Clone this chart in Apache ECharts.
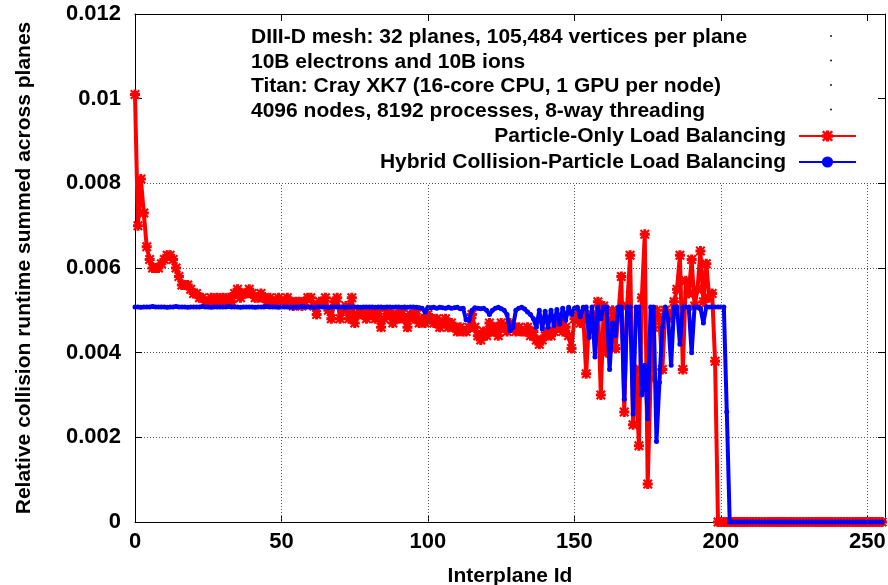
<!DOCTYPE html>
<html>
<head>
<meta charset="utf-8">
<title>Relative collision runtime per interplane</title>
<script src="https://cdn.jsdelivr.net/npm/echarts@6/dist/echarts.min.js"></script>
<style>
  html, body { margin: 0; padding: 0; background: #fff; }
  #chart { width: 888px; height: 585px; }
</style>
</head>
<body>
<div id="chart"></div>
<script>
// Run description printed at the top of the key
const noteLines = [
  'DIII-D mesh: 32 planes, 105,484 vertices per plane',
  '10B electrons and 10B ions',
  'Titan: Cray XK7 (16-core CPU, 1 GPU per node)',
  '4096 nodes, 8192 processes, 8-way threading'
];

const seriesNames = [
  'Particle-Only Load Balancing',
  'Hybrid Collision-Particle Load Balancing'
];

// Relative collision runtime (summed across planes), one value per interplane id 0..255
const particleOnly = [
  0.0101, 0.0070, 0.0081, 0.0073, 0.0065, 0.0062, 0.0060, 0.0060, 0.0060, 0.0061, // 0
  0.0062, 0.0063, 0.0063, 0.0062, 0.0060, 0.0058, 0.0056, 0.0056, 0.0056, 0.0055, // 10
  0.0054, 0.0054, 0.0053, 0.0053, 0.0052, 0.0052, 0.0053, 0.0052, 0.0053, 0.0052, // 20
  0.0053, 0.0052, 0.0053, 0.0052, 0.0054, 0.0055, 0.0053, 0.0054, 0.0054, 0.0055, // 30
  0.0054, 0.0053, 0.0053, 0.0054, 0.0053, 0.0052, 0.0053, 0.0052, 0.0052, 0.0053, // 40
  0.0052, 0.0052, 0.0053, 0.0052, 0.0051, 0.0052, 0.0052, 0.0051, 0.0052, 0.0053, // 50
  0.0053, 0.0051, 0.0049, 0.0052, 0.0052, 0.0053, 0.0050, 0.0048, 0.0052, 0.0053, // 60
  0.0048, 0.0050, 0.0051, 0.0048, 0.0053, 0.0047, 0.0049, 0.0050, 0.0049, 0.0048, // 70
  0.0050, 0.0049, 0.0048, 0.0050, 0.0046, 0.0048, 0.0050, 0.0049, 0.0047, 0.0049, // 80
  0.0048, 0.0050, 0.0048, 0.0046, 0.0049, 0.0048, 0.0050, 0.0047, 0.0048, 0.0047, // 90
  0.0049, 0.0048, 0.0047, 0.0048, 0.0046, 0.0047, 0.0048, 0.0046, 0.0047, 0.0046, // 100
  0.0045, 0.0046, 0.0045, 0.0045, 0.0046, 0.0049, 0.0046, 0.0044, 0.0043, 0.0045, // 110
  0.0044, 0.0047, 0.0045, 0.0046, 0.0044, 0.0047, 0.0046, 0.0045, 0.0047, 0.0046, // 120
  0.0045, 0.0046, 0.0045, 0.0045, 0.0046, 0.0044, 0.0045, 0.0043, 0.0042, 0.0043, // 130
  0.0044, 0.0045, 0.0044, 0.0045, 0.0046, 0.0047, 0.0045, 0.0046, 0.0044, 0.0041, // 140
  0.0048, 0.0049, 0.0047, 0.0049, 0.0035, 0.0048, 0.0049, 0.0047, 0.0052, 0.0030, // 150
  0.0051, 0.0040, 0.0047, 0.0050, 0.0041, 0.0049, 0.0058, 0.0026, 0.0051, 0.0063, // 160
  0.0023, 0.0036, 0.0018, 0.0053, 0.0068, 0.0009, 0.0034, 0.0046, 0.0050, 0.0048, // 170
  0.0036, 0.0050, 0.0048, 0.0049, 0.0052, 0.0055, 0.0063, 0.0036, 0.0057, 0.0054, // 180
  0.0062, 0.0051, 0.0055, 0.0064, 0.0052, 0.0061, 0.0053, 0.0054, 0.0038, 0,      // 190
  0, 0, 0, 0, 0, 0, 0, 0, 0, 0,                                                   // 200
  0, 0, 0, 0, 0, 0, 0, 0, 0, 0,                                                   // 210
  0, 0, 0, 0, 0, 0, 0, 0, 0, 0,                                                   // 220
  0, 0, 0, 0, 0, 0, 0, 0, 0, 0,                                                   // 230
  0, 0, 0, 0, 0, 0, 0, 0, 0, 0,                                                   // 240
  0, 0, 0, 0, 0, 0                                                                // 250
];

const hybrid = [
  0.00508, 0.00508, 0.00507, 0.00508, 0.00508, 0.00508, 0.00509, 0.00508, 0.00508, 0.00508, // 0
  0.00508, 0.00507, 0.00508, 0.00508, 0.00509, 0.00508, 0.00508, 0.00508, 0.00507, 0.00508, // 10
  0.00508, 0.00508, 0.00508, 0.00509, 0.00508, 0.00508, 0.00507, 0.00508, 0.00508, 0.00508, // 20
  0.00508, 0.00508, 0.00509, 0.00508, 0.00508, 0.00508, 0.00507, 0.00508, 0.00508, 0.00508, // 30
  0.00508, 0.00507, 0.00508, 0.00508, 0.00508, 0.00509, 0.00508, 0.00508, 0.00508, 0.00507, // 40
  0.00508, 0.00508, 0.00508, 0.00508, 0.00507, 0.00508, 0.00508, 0.00509, 0.00508, 0.00508, // 50
  0.00508, 0.00507, 0.00508, 0.00508, 0.00508, 0.00508, 0.00507, 0.00508, 0.00508, 0.00508, // 60
  0.00508, 0.00508, 0.00507, 0.00508, 0.00508, 0.00508, 0.00508, 0.00507, 0.00508, 0.00508, // 70
  0.00508, 0.00508, 0.00507, 0.00508, 0.00508, 0.00507, 0.00508, 0.00508, 0.00507, 0.00508, // 80
  0.00508, 0.00507, 0.00508, 0.00507, 0.00508, 0.00508, 0.00507, 0.00506, 0.00505, 0.00496, // 90
  0.00507, 0.00506, 0.00507, 0.00505, 0.00507, 0.00506, 0.00505, 0.00507, 0.00505, 0.00506, // 100
  0.00507, 0.00504, 0.00505, 0.00478, 0.00476, 0.00500, 0.00506, 0.00505, 0.00504, 0.00505, // 110
  0.00500, 0.00490, 0.00500, 0.00505, 0.00507, 0.00504, 0.00500, 0.00490, 0.00452, 0.00460, // 120
  0.00500, 0.00505, 0.00507, 0.00503, 0.00496, 0.00490, 0.00480, 0.00460, 0.00500, 0.00456, // 130
  0.00498, 0.00460, 0.00500, 0.00464, 0.00502, 0.00468, 0.00505, 0.00476, 0.00507, 0.00490, // 140
  0.00505, 0.00507, 0.00485, 0.00507, 0.00508, 0.00436, 0.00508, 0.00390, 0.00508, 0.00480, // 150
  0.00508, 0.00508, 0.00360, 0.00470, 0.00440, 0.00508, 0.00508, 0.00290, 0.00508, 0.00508, // 160
  0.00255, 0.00508, 0.00508, 0.00300, 0.00370, 0.00244, 0.00508, 0.00508, 0.00190, 0.00330, // 170
  0.00460, 0.00508, 0.00480, 0.00370, 0.00508, 0.00508, 0.00420, 0.00508, 0.00508, 0.00508, // 180
  0.00400, 0.00508, 0.00508, 0.00505, 0.00470, 0.00508, 0.00508, 0.00508, 0.00508, 0.00508, // 190
  0.00508, 0.00508, 0.00260, 0, 0, 0, 0, 0, 0, 0,                                           // 200
  0, 0, 0, 0, 0, 0, 0, 0, 0, 0,                                                             // 210
  0, 0, 0, 0, 0, 0, 0, 0, 0, 0,                                                             // 220
  0, 0, 0, 0, 0, 0, 0, 0, 0, 0,                                                             // 230
  0, 0, 0, 0, 0, 0, 0, 0, 0, 0,                                                             // 240
  0, 0, 0, 0, 0, 0                                                                          // 250
];

// Axis ticks
const xTicks = [0, 50, 100, 150, 200, 250];
const yTicks = [0, 0.002, 0.004, 0.006, 0.008, 0.01, 0.012];

const FONT = '"Liberation Sans", Arial, Helvetica, sans-serif';
const textBase = { fontFamily: FONT, fontSize: 21, fontWeight: 'bold', color: '#000' };
const tickText = Object.assign({}, textBase, { fontSize: 22 });

// The key box hides the grid above this value
const gridCeiling = 0.008;
const gridDot = { type: [1, 2], color: '#555', width: 1 };

// Thick asterisk marker (plus and cross)
const starPath = 'path://M3.5,0 L6.5,0 L6.5,3.5 L10,3.5 L10,6.5 L6.5,6.5 L6.5,10 L3.5,10 L3.5,6.5 L0,6.5 L0,3.5 L3.5,3.5 Z ' +
                 'M1.5,0 L5,3.5 L8.5,0 L10,1.5 L6.5,5 L10,8.5 L8.5,10 L5,6.5 L1.5,10 L0,8.5 L3.5,5 L0,1.5 Z';

const toPairs = arr => arr.map((v, i) => [i, v]);

const chart = echarts.init(document.getElementById('chart'), null, { renderer: 'canvas' });

const axisLineStyle = { show: true, onZero: false, lineStyle: { color: '#000', width: 1 } };
const tickStyle = { show: true, inside: true, length: 7, lineStyle: { color: '#000', width: 1 } };

// Empty key samples next to the description lines (tiny dots)
const noteDots = noteLines.map((_, i) => ({
  type: 'circle',
  shape: { cx: 831, cy: 36 + i * 24.5, r: 0.9 },
  style: { fill: '#000' },
  silent: true
}));

const option = {
  animation: false,
  backgroundColor: '#fff',
  title: {
    text: noteLines.join('\n'),
    left: 251,
    top: 25,
    padding: 0,
    textStyle: Object.assign({}, textBase, { lineHeight: 24.5 })
  },
  legend: {
    orient: 'vertical',
    right: 31,
    top: 125,
    align: 'right',
    itemWidth: 57,
    itemHeight: 14,
    itemGap: 4,
    padding: 0,
    data: seriesNames,
    textStyle: Object.assign({}, textBase, { lineHeight: 22, padding: [0, 8, 0, 0] })
  },
  graphic: noteDots,
  grid: { left: 135, right: 3, top: 14, bottom: 63, show: false, outerBoundsMode: 'none' },
  xAxis: [
    {
      type: 'value', min: 0, max: 256, interval: 50, position: 'bottom',
      axisLine: axisLineStyle,
      axisTick: tickStyle,
      axisLabel: Object.assign({}, tickText, { margin: 9, showMaxLabel: false }),
      splitLine: { show: false },
      name: 'Interplane Id',
      nameLocation: 'middle',
      nameGap: 44,
      nameTextStyle: textBase
    },
    {
      type: 'value', min: 0, max: 256, interval: 50, position: 'top',
      axisLine: axisLineStyle,
      axisTick: tickStyle,
      axisLabel: { show: false },
      splitLine: { show: false }
    }
  ],
  yAxis: [
    {
      type: 'value', min: 0, max: 0.012, interval: 0.002, position: 'left',
      axisLine: axisLineStyle,
      axisTick: tickStyle,
      axisLabel: Object.assign({}, tickText, {
        margin: 14,
        formatter: v => String(+v.toFixed(3))
      }),
      splitLine: {
        show: true,
        lineStyle: {
          type: gridDot.type, width: 1,
          color: yTicks.map(t => (t > 0 && t <= gridCeiling + 1e-9) ? gridDot.color : 'rgba(0,0,0,0)')
        }
      },
      name: 'Relative collision runtime summed across planes',
      nameLocation: 'middle',
      nameRotate: 90,
      nameGap: 100,
      nameTextStyle: textBase
    },
    {
      type: 'value', min: 0, max: 0.012, interval: 0.002, position: 'right',
      axisLine: axisLineStyle,
      axisTick: tickStyle,
      axisLabel: { show: false },
      splitLine: { show: false }
    }
  ],
  series: [
    {
      // vertical grid lines, stopping below the key
      name: 'grid',
      type: 'line',
      data: [],
      silent: true,
      z: 1,
      markLine: {
        silent: true,
        animation: false,
        symbol: ['none', 'none'],
        label: { show: false },
        lineStyle: gridDot,
        data: xTicks.filter(t => t > 0).map(t => [{ coord: [t, 0] }, { coord: [t, gridCeiling] }])
      }
    },
    {
      name: seriesNames[0],
      type: 'line',
      data: toPairs(particleOnly),
      z: 3,
      symbol: starPath,
      symbolSize: 10,
      showAllSymbol: true,
      lineStyle: { color: '#ff0000', width: 4 },
      itemStyle: { color: '#ff0000' }
    },
    {
      name: seriesNames[1],
      type: 'line',
      data: toPairs(hybrid),
      z: 4,
      symbol: 'circle',
      symbolSize: 5,
      showAllSymbol: true,
      lineStyle: { color: '#0000ff', width: 4 },
      itemStyle: { color: '#0000ff' }
    }
  ]
};

chart.setOption(option);
</script>
</body>
</html>
